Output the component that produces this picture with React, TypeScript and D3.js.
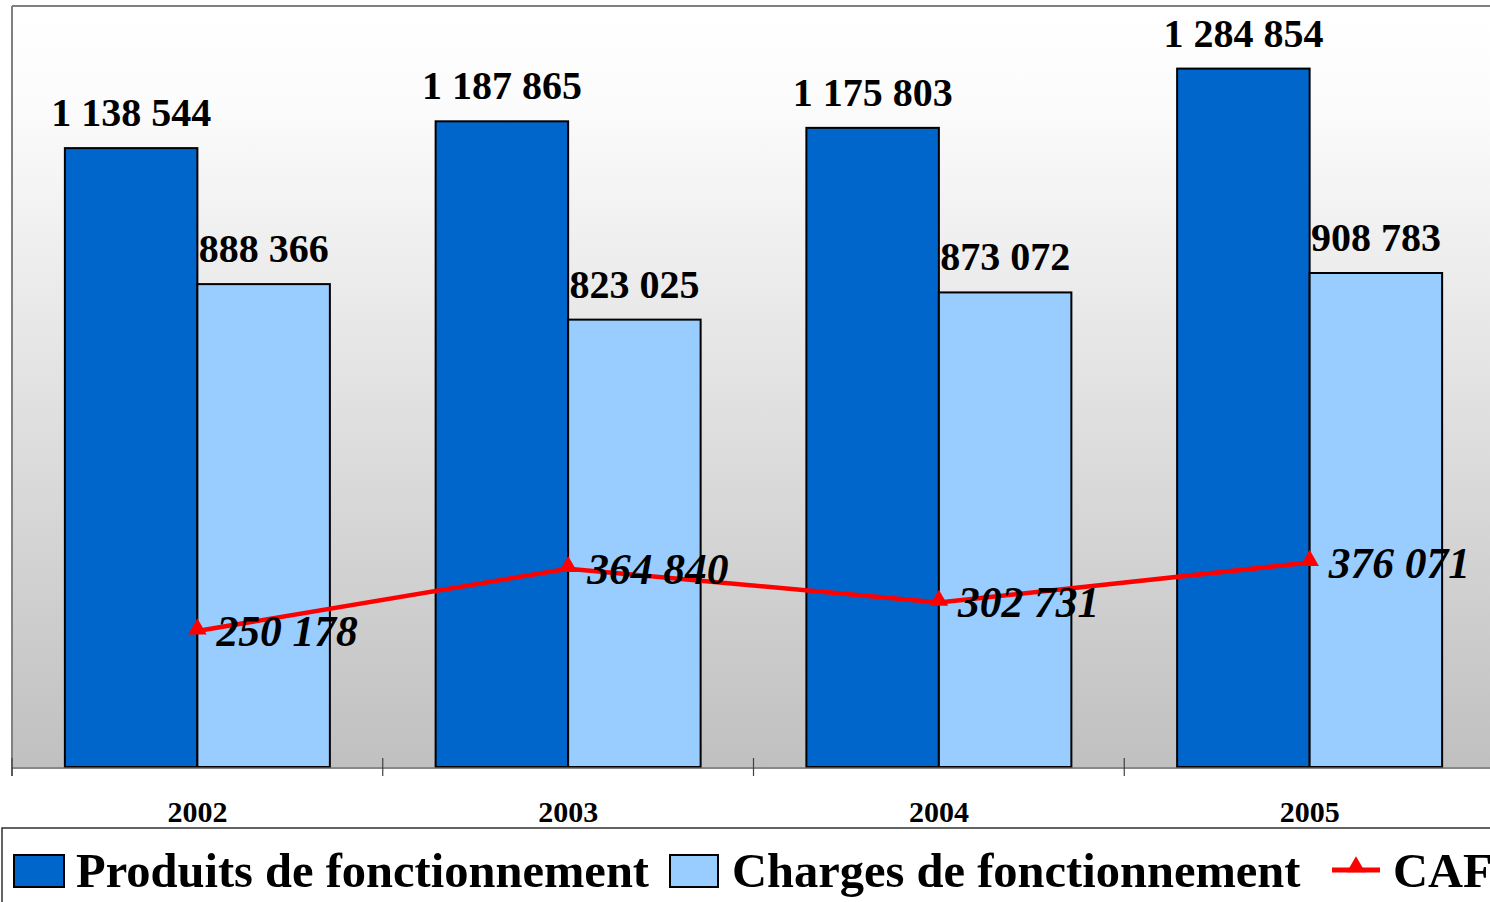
import React from "react";
import * as d3 from "d3";

const years = ["2002", "2003", "2004", "2005"];
const produits = [1138544, 1187865, 1175803, 1284854];
const charges = [888366, 823025, 873072, 908783];
const caf = [250178, 364840, 302731, 376071];
const seriesNames = ["Produits de fonctionnement", "Charges de fonctionnement", "CAF"];

const W = 1490;
const H = 902;
const FONT = "'Liberation Serif', 'Times New Roman', serif";
const fmt = (v: number) => d3.format(",")(v).replace(/,/g, " ");

export default function App() {
  const left = 12, right = 1495, top = 6, bottom = 767;
  const x = d3.scaleBand<string>().domain(years).range([left, right]).paddingInner(0).paddingOuter(0);
  const step = x.bandwidth();
  const barW = 132.5;
  const po = (step / barW - 2) / 2;
  const xs = d3.scaleBand<string>().domain(["p", "c"]).range([0, step]).paddingInner(0).paddingOuter(po);
  const y = d3.scaleLinear().domain([0, 1400000]).range([bottom, top]);
  const cx = (i: number) => (x(years[i]) as number) + step / 2;
  const line = d3.line<number>().x((_, i) => cx(i)).y((d) => y(d));
  const tri = d3.symbol().type(d3.symbolTriangle).size(150);
  const ticks = d3.range(years.length + 1).map((i) => left + i * step);

  return (
    <svg width={W} height={H} style={{ position: "absolute", left: 0, top: 0, background: "#fff" }} fontFamily={FONT}>
      <defs>
        <linearGradient id="bg" x1="0" y1="0" x2="0" y2="1">
          <stop offset="0" stopColor="#ffffff" />
          <stop offset="0.12" stopColor="#fcfcfc" />
          <stop offset="1" stopColor="#c0c0c0" />
        </linearGradient>
      </defs>
      <rect x={left} y={top} width={right - left} height={bottom - top} fill="url(#bg)" />
      <line x1={left} y1={top} x2={W} y2={top} stroke="#808080" strokeWidth={2} />
      <line x1={left} y1={top} x2={left} y2={bottom + 9} stroke="#808080" strokeWidth={2} />

      {years.map((yr, i) => {
        const x0 = x(yr) as number;
        const xp = x0 + (xs("p") as number);
        const xc = x0 + (xs("c") as number);
        return (
          <g key={yr}>
            <rect x={xp} y={y(produits[i])} width={xs.bandwidth()} height={bottom - y(produits[i])} fill="#0066cc" stroke="#000" strokeWidth={2} />
            <rect x={xc} y={y(charges[i])} width={xs.bandwidth()} height={bottom - y(charges[i])} fill="#99ccff" stroke="#000" strokeWidth={2} />
            <text x={xp + xs.bandwidth() / 2} y={y(produits[i]) - 22} textAnchor="middle" fontWeight="bold" fontSize={40}>{fmt(produits[i])}</text>
            <text x={xc + xs.bandwidth() / 2} y={y(charges[i]) - 22} textAnchor="middle" fontWeight="bold" fontSize={40}>{fmt(charges[i])}</text>
          </g>
        );
      })}

      <line x1={left} y1={bottom + 1} x2={W} y2={bottom + 1} stroke="#606060" strokeWidth={1.5} />
      {ticks.map((t, i) => (
        <line key={i} x1={t} y1={bottom - 9} x2={t} y2={bottom + 9} stroke="#404040" strokeWidth={1.2} />
      ))}
      {years.map((yr, i) => (
        <text key={yr} x={cx(i)} y={822} textAnchor="middle" fontWeight="bold" fontSize={30}>{yr}</text>
      ))}

      <path d={line(caf) as string} fill="none" stroke="#ff0000" strokeWidth={4.5} />
      {caf.map((v, i) => (
        <g key={i}>
          <path d={tri() as string} transform={`translate(${cx(i)},${y(v) - 2})`} fill="#ff0000" />
          <text x={cx(i) + 19} y={y(v) + 15} fontWeight="bold" fontStyle="italic" fontSize={43.5}>{fmt(v)}</text>
        </g>
      ))}

      <rect x={2} y={828} width={W} height={80} fill="#fff" stroke="#303030" strokeWidth={1.5} />
      <rect x={14} y={855} width={50} height={32} fill="#0066cc" stroke="#000" strokeWidth={2} />
      <text x={76} y={887} fontWeight="bold" fontSize={48.5}>{seriesNames[0]}</text>
      <rect x={670} y={855} width={48} height={32} fill="#99ccff" stroke="#000" strokeWidth={2} />
      <text x={732} y={887} fontWeight="bold" fontSize={48.5}>{seriesNames[1]}</text>
      <line x1={1332} y1={870} x2={1380} y2={870} stroke="#ff0000" strokeWidth={5} />
      <path d={tri() as string} transform="translate(1356,867)" fill="#ff0000" />
      <text x={1393} y={887} fontWeight="bold" fontSize={48.5}>{seriesNames[2]}</text>
    </svg>
  );
}
